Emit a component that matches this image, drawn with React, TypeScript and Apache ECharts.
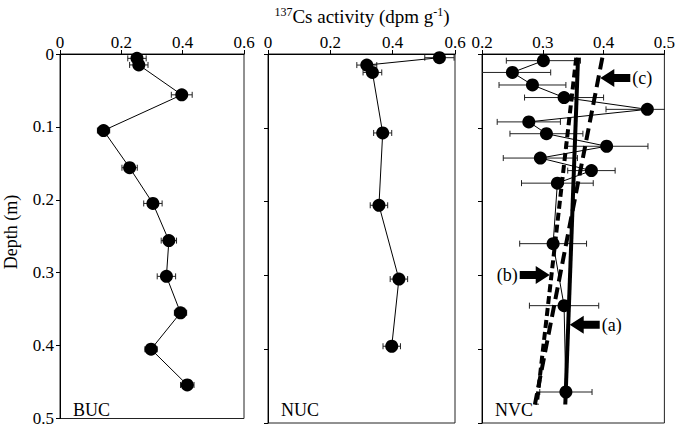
import React, { useEffect, useRef } from "react";
import * as echarts from "echarts";

// ---- data ----
const depthTicks = [0, 0.1, 0.2, 0.3, 0.4, 0.5];

const bucDepth = [0.006, 0.015, 0.056, 0.105, 0.156, 0.205, 0.256, 0.305, 0.355, 0.405, 0.454];
const bucAct = [0.251, 0.257, 0.397, 0.142, 0.227, 0.303, 0.355, 0.347, 0.393, 0.297, 0.415];
const bucErr = [0.03, 0.03, 0.034, 0.02, 0.025, 0.03, 0.025, 0.03, 0.02, 0.02, 0.022];

const nucDepth = [0.005, 0.015, 0.025, 0.107, 0.205, 0.305, 0.396];
const nucAct = [0.55, 0.317, 0.335, 0.368, 0.356, 0.42, 0.397];
const nucErr = [0.047, 0.032, 0.03, 0.029, 0.028, 0.028, 0.028];

const nvcDepth = [0.009, 0.025, 0.042, 0.059, 0.075, 0.092, 0.108, 0.125, 0.141, 0.158, 0.175, 0.257, 0.341, 0.458];
const nvcAct = [0.301, 0.25, 0.283, 0.335, 0.472, 0.277, 0.306, 0.405, 0.296, 0.38, 0.324, 0.317, 0.335, 0.338];
const nvcErr = [0.061, 0.063, 0.055, 0.065, 0.068, 0.052, 0.06, 0.068, 0.061, 0.039, 0.059, 0.055, 0.057, 0.043];

// fitted profiles in NVC panel
const fitDepth = [0.005, 0.475];
const fitA = [0.358, 0.337];
const fitB = [0.355, 0.29];
const fitC = [0.398, 0.287];

// arrow annotations (tip positions: activity, depth)
const arrowLabels = ["(a)", "(b)", "(c)"];
const arrowAct = [0.3443, 0.3114, 0.3946];
const arrowDepth = [0.367, 0.2995, 0.0325];
const arrowDir = ["left", "right", "left"];

const panelNames = ["BUC", "NUC", "NVC"];

const FONT = '"Liberation Serif", "Times New Roman", serif';

const fmt = (v: number) => String(Math.round(v * 10) / 10);

const grids = [
  { left: 60, top: 54, width: 184, height: 369 },
  { left: 268, top: 54, width: 187, height: 369 },
  { left: 482, top: 54, width: 185, height: 369 },
];

function xAx(gi: number, min: number, max: number, interval: number) {
  return {
    type: "value",
    gridIndex: gi,
    position: "top",
    min,
    max,
    interval,
    axisLine: { show: true, onZero: false, lineStyle: { color: "#000", width: 1 } },
    axisTick: { show: true, inside: false, length: 4, lineStyle: { color: "#000" } },
    axisLabel: { fontFamily: FONT, fontSize: 17, color: "#000", margin: 3, formatter: fmt },
    splitLine: { show: false },
  };
}

function yAx(gi: number) {
  return {
    type: "value",
    gridIndex: gi,
    inverse: true,
    min: depthTicks[0],
    max: depthTicks[depthTicks.length - 1],
    interval: 0.1,
    axisLine: { show: true, onZero: false, lineStyle: { color: "#000", width: 1 } },
    axisTick: { show: true, inside: false, length: 4, lineStyle: { color: "#000" } },
    axisLabel: { show: gi === 0, fontFamily: FONT, fontSize: 17, color: "#000", margin: 6, formatter: fmt },
    splitLine: { show: false },
  };
}

function errSeries(gi: number, act: number[], depth: number[], err: number[]) {
  return {
    type: "custom",
    xAxisIndex: gi,
    yAxisIndex: gi,
    clip: true,
    z: 2,
    data: act.map((a, i) => [a - err[i], depth[i], a + err[i]]),
    encode: { x: [0, 2], y: 1 },
    renderItem: (params: any, api: any) => {
      const p1 = api.coord([api.value(0), api.value(1)]);
      const p2 = api.coord([api.value(2), api.value(1)]);
      const h = 3;
      const st = { stroke: "#222", lineWidth: 1 };
      return {
        type: "group",
        children: [
          { type: "line", shape: { x1: p1[0], y1: p1[1], x2: p2[0], y2: p2[1] }, style: st },
          { type: "line", shape: { x1: p1[0], y1: p1[1] - h, x2: p1[0], y2: p1[1] + h }, style: st },
          { type: "line", shape: { x1: p2[0], y1: p2[1] - h, x2: p2[0], y2: p2[1] + h }, style: st },
        ],
      };
    },
  };
}

function dataSeries(gi: number, act: number[], depth: number[]) {
  return {
    type: "line",
    xAxisIndex: gi,
    yAxisIndex: gi,
    z: 4,
    data: act.map((a, i) => [a, depth[i]]),
    symbol: "circle",
    symbolSize: 13,
    showAllSymbol: true,
    itemStyle: { color: "#000" },
    lineStyle: { color: "#000", width: 1 },
  };
}

function fitSeries(vals: number[], type: any, extra: any = {}) {
  return {
    type: "line",
    xAxisIndex: 2,
    yAxisIndex: 2,
    z: 3,
    symbol: "none",
    data: vals.map((v, i) => [v, fitDepth[i]]),
    lineStyle: { color: "#000", width: 4, type },
    ...extra,
  };
}

const LEFT_ARROW = "path://M0 9 L14 0 L14 5 L30 5 L30 13 L14 13 L14 18 Z";
const RIGHT_ARROW = "path://M30 9 L16 0 L16 5 L0 5 L0 13 L16 13 L16 18 Z";

export default function App() {
  const ref = useRef<HTMLDivElement>(null);
  useEffect(() => {
    document.body.style.margin = "0";
    const chart = echarts.init(ref.current!, null, { renderer: "svg" });
    const markData = arrowLabels.map((lab, i) => ({
      coord: [arrowAct[i], arrowDepth[i]],
      symbol: arrowDir[i] === "left" ? LEFT_ARROW : RIGHT_ARROW,
      symbolSize: [30, 18],
      symbolOffset: [arrowDir[i] === "left" ? 15 : -15, 0],
      itemStyle: { color: "#000" },
      label: {
        show: true,
        position: arrowDir[i] === "left" ? "right" : "left",
        distance: 2,
        formatter: lab,
        fontFamily: FONT,
        fontSize: 18,
        color: "#000",
      },
    }));
    chart.setOption({
      animation: false,
      backgroundColor: "#fff",
      grid: grids.map((g) => ({ ...g, show: true, borderColor: "#222", borderWidth: 1, backgroundColor: "transparent" })),
      xAxis: [xAx(0, 0, 0.6, 0.2), xAx(1, 0, 0.6, 0.2), xAx(2, 0.2, 0.5, 0.1)],
      yAxis: [yAx(0), yAx(1), yAx(2)],
      series: [
        errSeries(0, bucAct, bucDepth, bucErr),
        dataSeries(0, bucAct, bucDepth),
        errSeries(1, nucAct, nucDepth, nucErr),
        dataSeries(1, nucAct, nucDepth),
        errSeries(2, nvcAct, nvcDepth, nvcErr),
        dataSeries(2, nvcAct, nvcDepth),
        fitSeries(fitA, "solid", {
          markPoint: { silent: true, data: markData },
        }),
        fitSeries(fitB, [8, 4]),
        fitSeries(fitC, [12, 6]),
      ],
      graphic: [
        {
          type: "text",
          x: 362,
          y: 16,
          style: {
            text: "{sup|137}Cs activity (dpm g{sup|-1})",
            font: `19px ${FONT}`,
            fill: "#000",
            textAlign: "center",
            textVerticalAlign: "middle",
            rich: {
              sup: { fontSize: 12, fontFamily: FONT, verticalAlign: "top", lineHeight: 20, fill: "#000" },
            },
          },
        },
        {
          type: "text",
          x: 11,
          y: 232,
          rotation: Math.PI / 2,
          style: {
            text: "Depth (m)",
            font: `18px ${FONT}`,
            fill: "#000",
            textAlign: "center",
            textVerticalAlign: "middle",
          },
        },
        ...panelNames.map((n, i) => ({
          type: "text",
          x: grids[i].left + 13,
          y: 410,
          style: { text: n, font: `18px ${FONT}`, fill: "#000", textVerticalAlign: "middle" },
        })),
      ],
    });
    return () => chart.dispose();
  }, []);
  return <div ref={ref} style={{ width: 678, height: 427 }} />;
}
